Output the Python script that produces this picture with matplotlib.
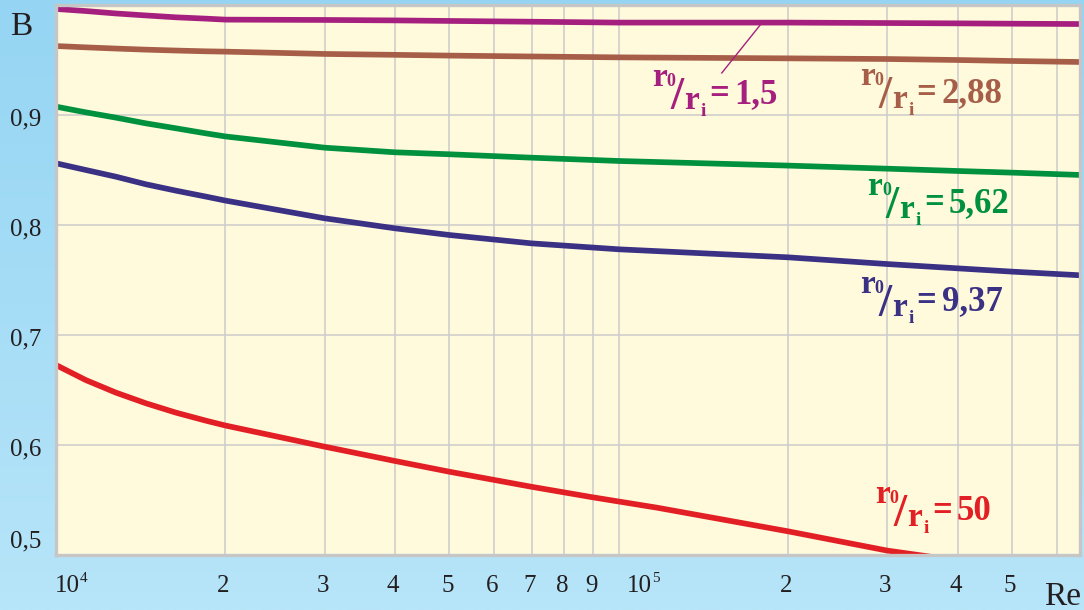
import numpy as np
import matplotlib
matplotlib.use("Agg")
import matplotlib.pyplot as plt
from matplotlib.ticker import NullLocator
from matplotlib.colors import LinearSegmentedColormap

# Reynolds numbers at which the curves are sampled
re_grid = [1.0e4, 1.13e4, 1.278e4, 1.445e4, 1.634e4, 1.847e4, 2.0e4, 3.0e4,
           4.0e4, 5.0e4, 7.0e4, 1.0e5, 2.0e5, 3.0e5, 4.0e5, 5.0e5, 6.6e5]

b_ratio_1_5 = [0.9964, 0.9945, 0.9923, 0.9905, 0.9888, 0.9876, 0.9867, 0.9864,
               0.9860, 0.9855, 0.9848, 0.9840, 0.9840, 0.9836, 0.9833, 0.9830,
               0.9827]
b_ratio_2_88 = [0.9627, 0.9615, 0.9604, 0.9594, 0.9586, 0.9579, 0.9576, 0.9555,
                0.9547, 0.9540, 0.9532, 0.9524, 0.9515, 0.9509, 0.9500, 0.9491,
                0.9482]
b_ratio_5_62 = [0.9076, 0.9024, 0.8976, 0.8924, 0.8879, 0.8833, 0.8805, 0.8703,
                0.8661, 0.8643, 0.8612, 0.8582, 0.8540, 0.8512, 0.8491, 0.8476,
                0.8455]
b_ratio_9_37 = [0.8561, 0.8500, 0.8439, 0.8370, 0.8312, 0.8258, 0.8222, 0.8061,
                0.7970, 0.7909, 0.7833, 0.7779, 0.7706, 0.7645, 0.7606, 0.7576,
                0.7543]

re_ratio_50 = [1.0e4, 1.13e4, 1.278e4, 1.445e4, 1.634e4, 1.847e4, 2.0e4, 3.0e4,
               4.0e4, 5.0e4, 7.0e4, 9.0e4, 1.17e5, 2.0e5, 3.0e5, 3.63e5]
b_ratio_50 = [0.6727, 0.6590, 0.6476, 0.6379, 0.6294, 0.6221, 0.6177, 0.5985,
              0.5855, 0.5757, 0.5620, 0.5524, 0.5430, 0.5215, 0.5040, 0.4980]

series_values = ["1,5", "2,88", "5,62", "9,37", "50"]
series_colors = ["#A5207E", "#A75E48", "#00913F", "#3A3185", "#E21F24"]

# where each r0/ri caption starts (left edge, baseline of the number)
label_re = [1.145e5, 2.68e5, 2.76e5, 2.68e5, 2.85e5]
label_b = [0.911, 0.912, 0.8118, 0.7227, 0.5318]

# leader from the 1,5 caption to its curve
leader_re = [1.524e5, 1.795e5]
leader_b = [0.9382, 0.9836]

y_ticks = [0.6, 0.7, 0.8, 0.9]
y_tick_labels = ["0,6", "0,7", "0,8", "0,9"]
y_bottom_label = "0,5"

x_grid = [2e4, 3e4, 4e4, 5e4, 6e4, 7e4, 8e4, 9e4, 1e5, 2e5, 3e5, 4e5, 5e5, 6e5]
x_digit_ticks = [2e4, 3e4, 4e4, 5e4, 6e4, 7e4, 8e4, 9e4, 2e5, 3e5, 4e5, 5e5]
x_digit_labels = ["2", "3", "4", "5", "6", "7", "8", "9", "2", "3", "4", "5"]
x_decades = [1e4, 1e5]
x_decade_exps = ["4", "5"]

SERIF = "Liberation Serif"
INK = "#231F20"

W, H = 1084, 610
fig = plt.figure(figsize=(W / 100, H / 100), dpi=100)

# sky-blue gradient behind everything
bg = fig.add_axes([0, 0, 1, 1], zorder=-10)
grad = np.linspace(0, 1, 256).reshape(-1, 1)
sky = LinearSegmentedColormap.from_list("sky", ["#95D5F3", "#B7E5F9"])
bg.imshow(grad, aspect="auto", cmap=sky, extent=[0, 1, 0, 1], origin="upper")
bg.axis("off")

ax = fig.add_axes([56 / W, 55 / H, 1024 / W, 550 / H])
ax.set_facecolor("#FFFADC")
ax.set_xscale("log")
ax.set_xlim(1e4, 6.6e5)
ax.set_ylim(0.5, 1.0)

ax.set_xticks(x_grid)
ax.xaxis.set_minor_locator(NullLocator())
ax.set_yticks(y_ticks)
ax.tick_params(length=0, labelbottom=False, labelleft=False)
ax.grid(True, color="#CBCBCB", lw=1.1, zorder=1)
for s in ax.spines.values():
    s.set_color("#C6C6C6")
    s.set_linewidth(2.4)
    s.set_zorder(5)

all_b = [b_ratio_1_5, b_ratio_2_88, b_ratio_5_62, b_ratio_9_37]
for vals, col in zip(all_b, series_colors[:4]):
    ax.plot(re_grid, vals, color=col, lw=4.1, solid_capstyle="butt",
            solid_joinstyle="round", zorder=3)
ax.plot(re_ratio_50, b_ratio_50, color=series_colors[4], lw=4.1,
        solid_capstyle="butt", solid_joinstyle="round", zorder=3)
ax.plot(leader_re, leader_b, color=series_colors[0], lw=1.0, zorder=3)


def ratio_label(re, b, value, color):
    kw = dict(xycoords="data", textcoords="offset pixels", color=color,
              family=SERIF, weight="bold", va="baseline", ha="left",
              annotation_clip=False, zorder=4)
    ax.annotate("r", (re, b), xytext=(0, 17), fontsize=24, **kw)
    ax.annotate("0", (re, b), xytext=(15, 17), fontsize=13, **kw)
    ax.annotate("/", (re, b), xytext=(19, -6), fontsize=34, **kw)
    ax.annotate("r", (re, b), xytext=(32, -6), fontsize=24, **kw)
    ax.annotate("i", (re, b), xytext=(49, -13), fontsize=14, **kw)
    ax.annotate("=", (re, b), xytext=(57, 0), fontsize=25, **kw)
    ax.annotate(value, (re, b), xytext=(82, 0), fontsize=25, **kw)


for re, b, v, c in zip(label_re, label_b, series_values, series_colors):
    ratio_label(re, b, v, c)

# y tick labels
tk = dict(xycoords=("axes fraction", "data"), textcoords="offset pixels",
          family=SERIF, fontsize=18, color=INK, ha="right", va="baseline",
          annotation_clip=False)
for v, t in zip(y_ticks, y_tick_labels):
    ax.annotate(t, (0, v), xytext=(-15, -10), **tk)
ax.annotate(y_bottom_label, (0, 0.5), xytext=(-15, 8), **tk)

# x tick labels
xk = dict(xycoords=("data", "axes fraction"), textcoords="offset pixels",
          family=SERIF, color=INK, va="baseline", annotation_clip=False)
for v, t in zip(x_digit_ticks, x_digit_labels):
    ax.annotate(t, (v, 0), xytext=(-2, -37), fontsize=18, ha="center", **xk)
for v, e, dx in zip(x_decades, x_decade_exps, [-1, 8]):
    ax.annotate("10", (v, 0), xytext=(dx, -37), fontsize=18, ha="left", **xk)
    ax.annotate(e, (v, 0), xytext=(dx + 25, -27), fontsize=11, ha="left", **xk)

fig.text(10 / W, 1 - 35 / H, "B", family=SERIF, fontsize=24, color=INK,
         ha="left", va="baseline")
fig.text(1044 / W, 1 - 605 / H, "Re", family=SERIF, fontsize=24, color=INK,
         ha="left", va="baseline")

fig.savefig("out.png", dpi=100)
